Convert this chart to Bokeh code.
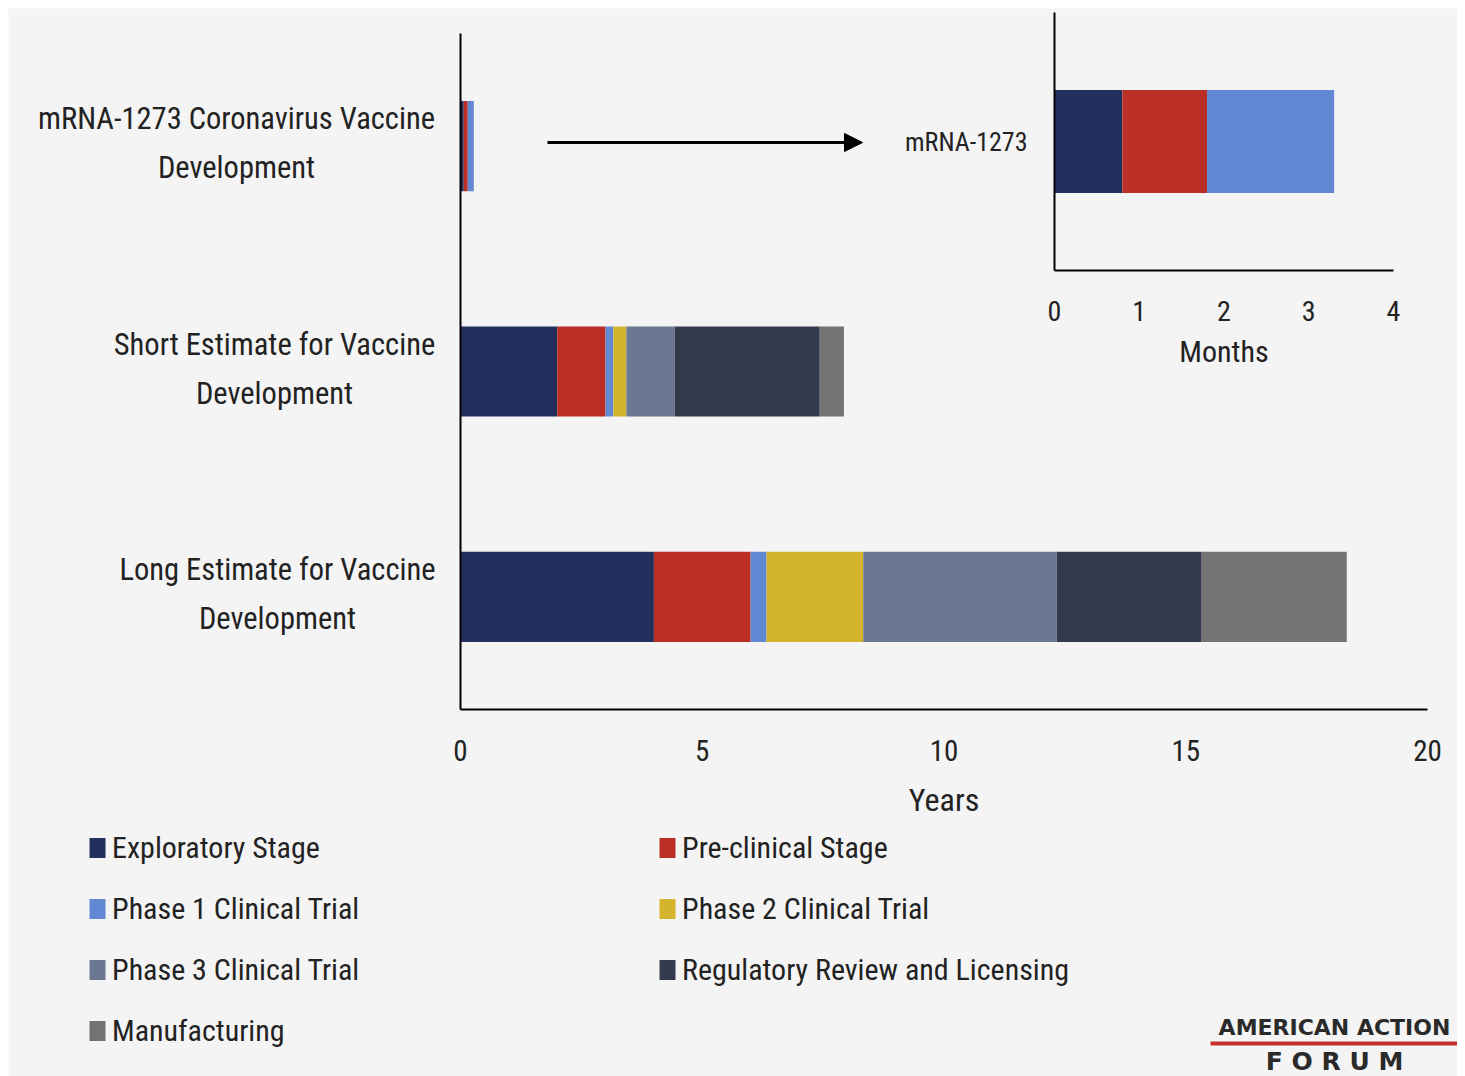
from bokeh.plotting import figure
from bokeh.models import (Range1d, FixedTicker, Label, Legend, LegendItem, Arrow,
                          NormalHead, ColumnDataSource, LinearAxis)
from bokeh.core.properties import value
from bokeh.embed import file_html
from bokeh.resources import INLINE

# ---------------- data ----------------
stages = ["Exploratory Stage", "Pre-clinical Stage", "Phase 1 Clinical Trial",
          "Phase 2 Clinical Trial", "Phase 3 Clinical Trial",
          "Regulatory Review and Licensing", "Manufacturing"]
stage_colors = ["#21305f", "#bb3026", "#6388d3", "#d4b32d", "#6b7892", "#323a4c", "#737373"]

# bottom -> top
category_labels = ["Long Estimate for Vaccine\nDevelopment",
                   "Short Estimate for Vaccine\nDevelopment",
                   "mRNA-1273 Coronavirus Vaccine\nDevelopment"]

long_years = [4.0, 2.0, 0.33, 2.0, 4.0, 3.0, 3.0]
short_years = [2.0, 1.0, 0.16, 0.27, 1.0, 3.0, 0.5]
mrna_months = [0.8, 1.0, 1.5, 0.0, 0.0, 0.0, 0.0]

year_ticks = [0, 5, 10, 15, 20]
month_ticks = [0, 1, 2, 3, 4]
inset_label = "mRNA-1273"

# ---------------- layout constants (page pixels) ----------------
W, H = 1449, 1068
OFF = 8
C_L, C_T = OFF, OFF                 # canvas on the page
C_R, C_B = OFF + W, OFF + H
X0PX, X20PX = 460, 1427             # main x: 0 and 20 years
Y0PX, Y3PX = 709, 33                # main y: 0 and 3 (category band)
IN_X0, IN_X4 = 1054, 1393           # inset 0 and 4 months
IN_Y0, IN_Y1 = 270, 12              # inset y=0 and y=1
CAT_CX = [277, 274, 236]            # centre of each category label block
ARROW_PX = (547, 862, 142)

FONT = "Roboto Condensed, DejaVu Sans Condensed, Roboto"
BG = "#f4f4f4"
TXT = "#222222"

n_cat = len(category_labels)


def lin_range(v0, p0, v1, p1, lo, hi):
    k = (v1 - v0) / (p1 - p0)
    return Range1d(v0 + (lo - p0) * k, v0 + (hi - p0) * k)


x_main = lin_range(year_ticks[0], X0PX, year_ticks[-1], X20PX, C_L, C_R)
y_main = lin_range(0, Y0PX, n_cat, Y3PX, C_B, C_T)
x_in = lin_range(month_ticks[0], IN_X0, month_ticks[-1], IN_X4, C_L, C_R)
y_in = lin_range(0, IN_Y0, 1, IN_Y1, C_B, C_T)

p = figure(width=W, height=H, output_backend="svg", toolbar_location=None,
           x_range=x_main, y_range=y_main,
           min_border=0, min_border_left=0, min_border_right=0,
           min_border_top=0, min_border_bottom=0)
p.margin = (OFF, OFF, 0, OFF)
p.extra_x_ranges = {"months": x_in}
p.extra_y_ranges = {"inset": y_in}
p.background_fill_color = BG
p.border_fill_color = BG
p.outline_line_color = None
p.xgrid.visible = False
p.ygrid.visible = False

# ---------------- main bars ----------------
mrna_years = [m / 12.0 for m in mrna_months]
data = {"y": [0.5 + i for i in range(n_cat)]}
for i, s in enumerate(stages):
    data[s] = [long_years[i], short_years[i], mrna_years[i]]
src = ColumnDataSource(data)
bars = p.hbar_stack(stages, y="y", height=0.4, color=stage_colors, source=src, line_width=0)

# ---------------- inset bars ----------------
inset_data = {"y": [0.5]}
for i, s in enumerate(stages):
    inset_data[s] = [mrna_months[i]]
isrc = ColumnDataSource(inset_data)
p.hbar_stack(stages, y="y", height=0.4, color=stage_colors, source=isrc, line_width=0,
             x_range_name="months", y_range_name="inset")


def style_axis(ax, font_size, standoff):
    ax.axis_line_width = 2
    ax.axis_line_color = "black"
    ax.major_tick_line_color = None
    ax.minor_tick_line_color = None
    ax.major_tick_out = 0
    ax.major_tick_in = 0
    ax.major_label_standoff = standoff
    ax.major_label_text_font = FONT
    ax.major_label_text_font_size = font_size
    ax.major_label_text_color = TXT
    ax.axis_label_text_font = FONT
    ax.axis_label_text_font_style = "normal"
    ax.axis_label_text_color = TXT


# ---------------- main axes ----------------
xa = p.xaxis[0]
xa.fixed_location = 0
xa.ticker = FixedTicker(ticks=year_ticks)
xa.bounds = (year_ticks[0], year_ticks[-1])
style_axis(xa, "29px", 30)
xa.axis_label = "Years"
xa.axis_label_text_font_size = "32px"
xa.axis_label_standoff = 17

ya = p.yaxis[0]
ya.fixed_location = 0
ya.ticker = FixedTicker(ticks=[])
ya.bounds = (0, n_cat)
style_axis(ya, "30px", 27)

# category labels: right-aligned blocks with centred lines
cat_src = ColumnDataSource({"x": [0] * n_cat, "y": data["y"], "text": category_labels,
                            "dx": [cx - X0PX for cx in CAT_CX]})
p.text(x="x", y="y", text="text", x_offset="dx", y_offset=-3, source=cat_src,
       text_align="center", text_baseline="middle", text_font=value(FONT),
       text_font_size="30.5px", text_color=TXT, text_line_height=1.4)

# ---------------- inset axes ----------------
ixa = LinearAxis(x_range_name="months", y_range_name="inset", fixed_location=0,
                 ticker=FixedTicker(ticks=month_ticks),
                 bounds=(month_ticks[0], month_ticks[-1]), axis_label="Months")
style_axis(ixa, "28px", 30)
ixa.axis_label_text_font_size = "30px"
ixa.axis_label_standoff = 10
p.add_layout(ixa, "below")

iya = LinearAxis(x_range_name="months", y_range_name="inset", fixed_location=0,
                 ticker=FixedTicker(ticks=[0.5]), bounds=(0, 1),
                 major_label_overrides={0.5: inset_label})
style_axis(iya, "26px", 27)
p.add_layout(iya, "left")

# arrow from main mRNA bar to inset
kx = (year_ticks[-1] - year_ticks[0]) / (X20PX - X0PX)
ky = n_cat / (Y0PX - Y3PX)
ay = (Y0PX - ARROW_PX[2]) * ky
p.add_layout(Arrow(end=NormalHead(size=18, fill_color="black", line_color="black"),
                   x_start=(ARROW_PX[0] - X0PX) * kx, x_end=(ARROW_PX[1] - X0PX) * kx,
                   y_start=ay, y_end=ay, line_color="black", line_width=3))

# ---------------- legend ----------------
order = [0, 2, 4, 6, 1, 3, 5]
items = [LegendItem(label=stages[i], renderers=[bars[i]]) for i in order]
legend = Legend(items=items, ncols=2, location=(87 - C_L, C_B - 1048),
                glyph_width=20, glyph_height=25, label_standoff=5, spacing=26,
                label_width=519, padding=0, margin=0, border_line_color=None,
                background_fill_alpha=0, label_text_font=FONT,
                label_text_font_size="30px", label_text_color=TXT)
p.add_layout(legend, "center")

# ---------------- logo ----------------
p.add_layout(Label(x=1334 - C_L, y=C_B - 1027, x_units="screen", y_units="screen",
                   text="AMERICAN ACTION", text_align="center", text_baseline="middle",
                   text_font="DejaVu Sans", text_font_style="bold", text_font_size="22px",
                   text_color="#2a2a2a"))
p.add_layout(Arrow(end=None, x_start=1210 - C_L, x_end=1457 - C_L,
                   y_start=C_B - 1043, y_end=C_B - 1043,
                   start_units="screen", end_units="screen",
                   line_color="#c8302c", line_width=4))
p.add_layout(Label(x=1334 - C_L, y=C_B - 1061, x_units="screen", y_units="screen",
                   text="F O R U M", text_align="center", text_baseline="middle",
                   text_font="DejaVu Sans", text_font_style="bold", text_font_size="25px",
                   text_color="#2a2a2a"))

open("out.html", "w").write(file_html(p, INLINE))
